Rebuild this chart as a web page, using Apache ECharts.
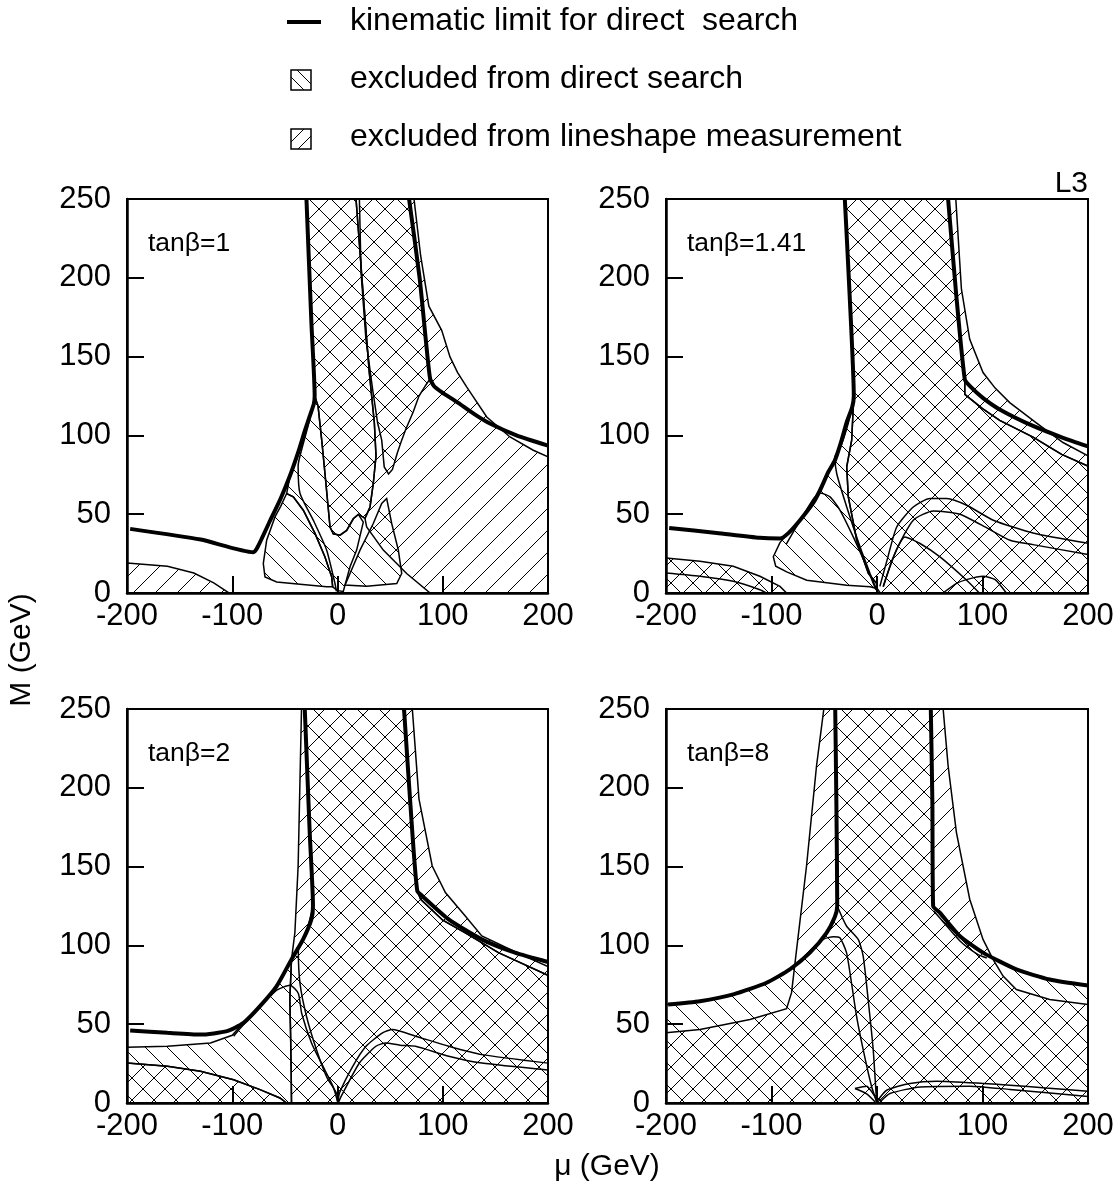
<!DOCTYPE html>
<html>
<head>
<meta charset="utf-8">
<script src="https://cdn.jsdelivr.net/npm/echarts@6/dist/echarts.min.js"></script>
<style>
html, body { margin: 0; padding: 0; background: #fff; }
#main { width: 1120px; height: 1199px; }
</style>
</head>
<body>
<div id="main"></div>
<script>
// ---- data (mu in GeV on x, M in GeV on y) ----
var panelTitles = ['tan\u03b2=1', 'tan\u03b2=1.41', 'tan\u03b2=2', 'tan\u03b2=8'];
var xTicks = [-200, -100, 0, 100, 200];
var yTicks = [0, 50, 100, 150, 200, 250];

// tan(beta) = 1
var p1KinLeft = [[-197,40.7],[-130,33.9],[-80,25.9],[-76,29],[-64,46],[-54,60],[-45,74.7],[-37,90],[-31,103],[-26,113],[-22.5,120],[-21.7,125],[-24.8,171.6],[-29.5,250]];
var p1KinRight = [[68,250],[78,200],[84,160],[88,136],[92,131],[100,127],[113.3,121.3],[130,113.5],[144.9,107.5],[170,100],[200,93.5]];
var p1CrossLeft = [[-29.5,250],[17.6,250],[24,193],[30.2,140],[35,108],[36.6,87],[34,69.5],[30.9,54.6],[26.1,47.3],[19.8,49.9],[15,47.1],[8.7,39.7],[2.4,36.7],[-4,37.6],[-7.1,41.9],[-11.9,75.8],[-15,97],[-18.5,118.7],[-21.7,125],[-24.8,171.6]];
var p1CrossU = [[20.8,250],[22.4,203],[27,161],[33.4,129],[38.1,108],[42,97],[44.4,80],[48.5,75.5],[52.2,78.4],[56.9,89],[61,97],[64.8,103.8],[72,115],[77.4,125],[84,132],[88,136],[84,160],[78,200],[68,250]];
var p1LsMain = [[17.6,250],[72.7,250],[79,214],[86.8,182],[99,166.7],[106.9,149.8],[114,140],[122.7,130.8],[141.8,111.7],[163.9,99],[186,90.6],[200,86.4],[200,0],[88,0],[65.7,12.4],[43.5,27.2],[27.7,41.9],[26.1,47.3],[30.9,54.6],[34,69.5],[36.6,87],[35,108],[30.2,140],[24,193]];
var p1LsCorner = [[-200,19],[-161.6,17],[-136.5,12.7],[-117.6,6.4],[-103,0],[-200,0]];
var p1DsLobeL = [[-48.3,63.1],[-54,55],[-59.4,48.3],[-67.3,33.5],[-70.5,18.7],[-68.9,10.2],[-57.8,7],[-35.6,5.6],[-10.3,3.9],[-4.6,3.9],[-5.5,10.2],[-11.9,22.9],[-21.4,37.8],[-32.5,52.5],[-42,61]];
var p1DsMid = [[-21.7,125],[-22.5,120],[-26,113],[-31,103],[-37,90],[-45,74.7],[-48.3,63.1],[-42,61],[-32.5,52.5],[-21.4,37.8],[-11.9,22.9],[-5.5,10.2],[-4.6,3.9],[0,1.5],[5.5,1],[11.9,16.6],[18.2,27.2],[24.5,45],[19.8,49.9],[15,47.1],[8.7,39.7],[2.4,36.7],[-4,37.6],[-7.1,41.9],[-11.9,75.8],[-15,97],[-18.5,118.7]];
var p1DsLobeR = [[46.7,60],[51.5,44.1],[57.8,27.2],[61,12.4],[56.3,6],[27.7,4.3],[7.1,5],[11.9,12.4],[21.4,27.2],[34,44.1],[42,56.8]];
var p1Twin = [[-22,122],[-28,106],[-36,86],[-37.4,80.5],[-35.6,63.1],[-23,46.2],[-10.3,27.2],[-2.4,6],[-1,1]];

// tan(beta) = 1.41
var p2KinLeft = [[-197,41.3],[-152,38.1],[-111,35],[-92,34.6],[-84,38],[-73,46.2],[-60.5,57.2],[-54,65.2],[-46,77],[-39.8,84.3],[-33.5,97],[-28.9,108],[-23.5,118],[-22,125],[-26,190],[-30.5,250]];
var p2KinRight = [[67.4,250],[75,190],[83.2,135.6],[87.9,131.4],[100,124],[116.3,116.5],[147.9,106],[176.3,98.5],[200,93]];
var p2Cross = [[-30.5,250],[67.4,250],[75,190],[83.2,135.6],[83.2,126],[100,117],[116.3,109.5],[147.9,98.9],[175,88],[200,80.5],[200,0],[3,0],[0,3],[-0.3,6],[-8.2,12.4],[-19.2,33.5],[-27.2,61],[-28.7,80],[-24,97],[-22,125],[-26,190]];
var p2LsBand = [[67.4,250],[74.7,250],[80,193],[87.9,161],[100.5,139.9],[112,130],[125.8,120.8],[151,108],[176.3,95.5],[200,87],[200,80.5],[175,88],[147.9,98.9],[116.3,109.5],[100,117],[83.2,126],[83.2,135.6],[75,190]];
var p2DsLobe = [[-22,125],[-23.5,118],[-28.9,108],[-33.5,97],[-39.8,84.3],[-46,77],[-54,65.2],[-60.5,57.2],[-73,46.2],[-84,38],[-92,32],[-98.3,23],[-96,17],[-85.6,13.4],[-66.6,8.1],[-28.7,4.9],[-6.6,3.9],[-1,3],[-0.3,6],[-8.2,12.4],[-19.2,33.5],[-27.2,61],[-28.7,80],[-24,97]];
var p2CornerX = [[-200,22.2],[-167.8,20.1],[-136.2,17],[-111,10.6],[-92,4.2],[-85.7,0],[-200,0]];
var p2CornerLine = [[-200,12.7],[-167.8,10.6],[-136.2,7.4],[-111,2.1],[-105,0]];
var p2LobeLine = [[-86,31],[-72,47],[-60,60],[-54,63.5],[-44.5,61],[-35,52.5],[-22.5,35.6],[-9.8,16.6],[-3.5,6],[-1,2]];
var p2Twin = [[-22,122],[-28,106],[-35,92],[-39.8,86.4],[-38.2,75.8],[-28.7,54.6],[-16.1,29.3],[-6.6,12.4],[-1,3]];
var p2Arc1 = [[2.7,4.2],[10,22],[18.7,41.9],[34.4,54.6],[50.2,60],[66.1,60],[85,55.7],[110.2,46.2],[147.9,38.1],[200,31.5]];
var p2Arc2 = [[5.8,4.2],[18.5,27.5],[34.4,46.2],[53.4,52.1],[78.7,50],[105,41],[126.1,33.5],[147.9,30.7],[200,24.4]];
var p2Arc3 = [[6,3.9],[15,22],[26.5,35.6],[40.8,31.4],[59.7,22.9],[85,8.1],[97,0]];
var p2Bump = [[62.6,0],[75,6],[84.8,8.5],[100.5,10.6],[112,8.5],[122.6,0]];

// tan(beta) = 2
var p3KinLeft = [[-197,46],[-161.6,44.5],[-130.2,43.4],[-105,45.6],[-89.3,50.9],[-73.6,61.5],[-57.8,74.2],[-43.7,91.1],[-32.7,103.8],[-24.8,116.5],[-23.3,125],[-26.4,171.6],[-31.1,250]];
var p3KinRight = [[63.2,250],[71.1,171.6],[75.8,134.6],[80.5,131.4],[105.7,116.5],[137.1,103.8],[168.6,95.4],[200,89.5]];
var p3Cross = [[-31.1,250],[63.2,250],[71.1,171.6],[75.8,134.6],[79,129.3],[100,116],[121.4,108],[152.9,95.4],[200,81],[200,0],[-43.7,0],[-44,20],[-44.6,44.5],[-45.3,65.7],[-43.7,91.1],[-32.7,103.8],[-24.8,116.5],[-23.3,125],[-26.4,171.6]];
var p3LsLeft = [[-34.2,250],[-31.1,250],[-26.4,171.6],[-23.3,125],[-24.8,116.5],[-32.7,103.8],[-43.7,91.1],[-40.5,108],[-37.4,150.4]];
var p3LsRight = [[63.2,250],[71.1,250],[77.4,193],[90,150.4],[102.5,133.5],[121.4,118.7],[137.1,106],[168.6,96],[200,86.5],[200,81],[152.9,95.4],[121.4,108],[100,116],[79,129.3],[75.8,134.6],[71.1,171.6]];
var p3Ds = [[-200,35.4],[-161.6,36],[-120.7,38.1],[-100,43],[-89.3,50.9],[-73.6,61.5],[-57.8,74.2],[-43.7,91.1],[-45.3,65.7],[-44.6,44.5],[-44,20],[-43.7,0],[-48.4,0],[-54.7,3.2],[-73.6,8.5],[-98.7,14.8],[-130.2,20.1],[-161.6,23.3],[-200,25.4]];
var p3CornerX = [[-200,25.4],[-161.6,23.3],[-130.2,20.1],[-98.7,14.8],[-73.6,8.5],[-54.7,3.2],[-48.4,0],[-200,0]];
var p3Peak = [[-98.7,42.4],[-92.6,47.3],[-73.6,61],[-57.8,71.6],[-45.1,74.7],[-37.2,69.5],[-34,56.8],[-24.5,37.8],[-13.5,22.9],[-4,10.2],[0,1]];
var p3Twin = [[-23.3,125],[-28,112],[-33,104],[-37.2,97],[-35.6,75.8],[-29.3,54.6],[-19.8,33.5],[-10.3,16.6],[-0.8,6],[0,1]];
var p3Arc1 = [[0.5,0.5],[1.9,6.4],[14.5,23.3],[27.1,36],[42.8,44.5],[52.2,46.6],[74.2,42.4],[105.7,36],[137.1,30.7],[200,25.3]];
var p3Arc2 = [[1,0.5],[3.5,4.2],[20.8,25.4],[36.5,36],[45.9,38.1],[59.4,36.7],[74.2,36],[105.7,29.7],[137.1,25.4],[200,21]];

// tan(beta) = 8
var p4KinLeft = [[-198,62.5],[-167.8,64.6],[-136.2,68.9],[-104.7,76.3],[-82.6,84.8],[-63.6,95.4],[-47.8,108],[-40,118],[-37.7,125],[-38.5,190],[-39.6,250]];
var p4KinRight = [[51,250],[52.5,190],[53.2,125],[59.5,120.8],[78.4,106],[100.5,95.4],[132.1,84.8],[163.7,78.4],[200,74.5]];
var p4Ls = [[-200,44.5],[-167.8,46.6],[-120.4,53],[-85.7,59.8],[-81,70],[-76.2,97.5],[-66.8,150.4],[-57.3,214],[-50.4,250],[62.7,250],[67.4,214],[75.3,171.6],[87.9,129.3],[100.5,103.8],[110,91.1],[119.5,80.5],[132.1,72],[163.7,65.7],[200,62.5],[200,0],[-200,0]];
var p4Ds = [[-200,62.5],[-167.8,64.6],[-136.2,68.9],[-104.7,76.3],[-82.6,84.8],[-63.6,95.4],[-47.8,108],[-40,118],[-37.7,125],[-38.5,190],[-39.6,250],[51,250],[52.5,190],[53.2,125],[59.5,120.8],[78.4,106],[100.5,95.4],[132.1,84.8],[163.7,78.4],[200,74.5],[200,0],[-200,0]];
var p4Line1 = [[-37.7,125],[-28.9,112.3],[-17.8,103.8],[-13.1,93.2],[-8.4,65.7],[-3.6,33.9],[-0.5,2.1],[0,0]];
var p4Line2 = [[-76.2,89],[-63.6,95.4],[-51,103.8],[-41.5,105.5],[-35.2,104.9],[-28.9,95.4],[-24.2,76.3],[-19.4,55.1],[-13.1,33.9],[-5.2,10.6],[-0.5,1.1]];
var p4Twin = [[53.5,122],[60,117],[78.4,103],[95,94.5],[104,92]];
var p4Arc1 = [[-0.3,0.7],[9.2,8.1],[31.3,12.4],[56.6,13.8],[100.8,12.4],[126.1,11.3],[160,9.5],[200,7.4]];
var p4Arc2 = [[2.9,0.7],[12.3,6],[40.8,10.2],[88.2,10.7],[126.1,8.6],[200,4.2]];
var p4Small1 = [[-20.9,9.2],[-9.8,10.7],[-1.9,3.9],[-0.3,0.7]];
var p4Small2 = [[-20.9,9.2],[-9.8,5.8],[-1.5,0.5]];

// ---- drawing ----
var FONT = 'Liberation Sans, Arial, Helvetica, sans-serif';
var HATCH = 22;

function hatch(kind) {
  var c = document.createElement('canvas');
  c.width = HATCH; c.height = HATCH;
  var ctx = c.getContext('2d');
  ctx.strokeStyle = '#000';
  ctx.lineWidth = 1;
  ctx.beginPath();
  for (var k = -1; k <= 1; k++) {
    if (kind !== 'ds') { ctx.moveTo(k * HATCH, HATCH); ctx.lineTo(k * HATCH + HATCH, 0); }
    if (kind !== 'ls') { ctx.moveTo(k * HATCH, 0); ctx.lineTo(k * HATCH + HATCH, HATCH); }
  }
  ctx.stroke();
  return { image: c, repeat: 'repeat' };
}
var PAT = { ds: hatch('ds'), ls: hatch('ls'), x: hatch('x') };

var panels = [
  { regions: [['ls', p1LsMain], ['ls', p1LsCorner], ['x', p1CrossLeft], ['x', p1CrossU], ['ds', p1DsMid], ['ds', p1DsLobeL], ['ds', p1DsLobeR]],
    lines: [p1Twin], kin: [p1KinLeft, p1KinRight] },
  { regions: [['x', p2Cross], ['ls', p2LsBand], ['ds', p2DsLobe], ['x', p2CornerX]],
    lines: [p2CornerLine, p2LobeLine, p2Twin, p2Arc1, p2Arc2, p2Arc3, p2Bump], kin: [p2KinLeft, p2KinRight] },
  { regions: [['x', p3Cross], ['ls', p3LsLeft], ['ls', p3LsRight], ['ds', p3Ds], ['x', p3CornerX]],
    lines: [p3Peak, p3Twin, p3Arc1, p3Arc2], kin: [p3KinLeft, p3KinRight] },
  { regions: [['ls', p4Ls], ['ds', p4Ds]],
    lines: [p4Line1, p4Line2, p4Twin, p4Arc1, p4Arc2, p4Small1, p4Small2], kin: [p4KinLeft, p4KinRight] }
];

var gridBoxes = [
  { left: 127, top: 199, width: 421, height: 394 },
  { left: 666, top: 199, width: 422, height: 394 },
  { left: 127, top: 709, width: 421, height: 394 },
  { left: 666, top: 709, width: 422, height: 394 }
];

var grids = [], xAxes = [], yAxes = [], series = [], graphics = [];

gridBoxes.forEach(function (b, i) {
  grids.push({ left: b.left, top: b.top, width: b.width, height: b.height, show: true,
    borderColor: '#000', borderWidth: 2, backgroundColor: 'transparent', outerBoundsMode: 'none' });
  xAxes.push({ gridIndex: i, type: 'value', min: xTicks[0], max: xTicks[xTicks.length - 1], interval: 100,
    axisLine: { show: true, onZero: false, lineStyle: { color: '#000', width: 2.5 } },
    axisTick: { show: true, inside: true, length: 17, lineStyle: { color: '#000', width: 2 } },
    axisLabel: { color: '#000', fontSize: 31, fontFamily: FONT, margin: 8, showMinLabel: true, showMaxLabel: true },
    splitLine: { show: false } });
  yAxes.push({ gridIndex: i, type: 'value', min: yTicks[0], max: yTicks[yTicks.length - 1], interval: 50,
    axisLine: { show: true, onZero: false, lineStyle: { color: '#000', width: 2.5 } },
    axisTick: { show: true, inside: true, length: 17, lineStyle: { color: '#000', width: 2 } },
    axisLabel: { color: '#000', fontSize: 31, fontFamily: FONT, margin: 16, showMinLabel: true, showMaxLabel: true },
    splitLine: { show: false } });
  graphics.push({ type: 'text', left: b.left + 21, top: b.top + 31,
    style: { text: panelTitles[i], font: '26.5px ' + FONT, fill: '#000' }, z: 10 });
});

function regionSeries(gi, kind, pts) {
  return {
    type: 'custom', xAxisIndex: gi, yAxisIndex: gi, clip: true, silent: true, z: 2,
    data: [[pts[0][0], pts[0][1]]],
    renderItem: function (params, api) {
      return {
        type: 'polygon',
        shape: { points: pts.map(function (p) { return api.coord(p); }) },
        style: { fill: PAT[kind], stroke: '#000', lineWidth: 1.5 }
      };
    }
  };
}

function lineSeries(gi, pts, w) {
  return {
    type: 'line', xAxisIndex: gi, yAxisIndex: gi, data: pts, symbol: 'none', showSymbol: false,
    smooth: 0.2, clip: true, silent: true, z: w > 2 ? 6 : 4,
    lineStyle: { color: '#000', width: w }
  };
}

panels.forEach(function (p, gi) {
  p.regions.forEach(function (r) { series.push(regionSeries(gi, r[0], r[1])); });
  p.lines.forEach(function (l) { series.push(lineSeries(gi, l, 1.5)); });
  p.kin.forEach(function (l) { series.push(lineSeries(gi, l, 4)); });
});

// legend and axis titles
graphics.push(
  { type: 'line', shape: { x1: 287, y1: 22, x2: 321, y2: 22 }, style: { stroke: '#000', lineWidth: 4 } },
  { type: 'text', left: 350, top: 5, style: { text: 'kinematic limit for direct  search', font: '32px ' + FONT, fill: '#000' } },
  { type: 'rect', shape: { x: 291, y: 70, width: 20, height: 20 }, style: { fill: '#fff', stroke: '#000', lineWidth: 1.5 } },
  { type: 'line', shape: { x1: 291, y1: 77, x2: 304, y2: 90 }, style: { stroke: '#000', lineWidth: 1 } },
  { type: 'line', shape: { x1: 297, y1: 70, x2: 311, y2: 84 }, style: { stroke: '#000', lineWidth: 1 } },
  { type: 'text', left: 350, top: 63, style: { text: 'excluded from direct search', font: '32px ' + FONT, fill: '#000' } },
  { type: 'rect', shape: { x: 291, y: 129, width: 20, height: 20 }, style: { fill: '#fff', stroke: '#000', lineWidth: 1.5 } },
  { type: 'line', shape: { x1: 291, y1: 142, x2: 304, y2: 129 }, style: { stroke: '#000', lineWidth: 1 } },
  { type: 'line', shape: { x1: 298, y1: 149, x2: 311, y2: 136 }, style: { stroke: '#000', lineWidth: 1 } },
  { type: 'text', left: 350, top: 121, style: { text: 'excluded from lineshape measurement', font: '32px ' + FONT, fill: '#000' } },
  { type: 'text', right: 32, top: 169, style: { text: 'L3', font: '30px ' + FONT, fill: '#000' } },
  { type: 'text', x: 22, y: 650, rotation: Math.PI / 2,
    style: { text: 'M (GeV)', font: '30px ' + FONT, fill: '#000', textAlign: 'center', textVerticalAlign: 'middle' } },
  { type: 'text', x: 607, y: 1167,
    style: { text: '\u03bc (GeV)', font: '30px ' + FONT, fill: '#000', textAlign: 'center', textVerticalAlign: 'middle' } }
);

var chart = echarts.init(document.getElementById('main'), null, { renderer: 'canvas' });
chart.setOption({
  animation: false,
  backgroundColor: '#fff',
  grid: grids,
  xAxis: xAxes,
  yAxis: yAxes,
  series: series,
  graphic: graphics
});
</script>
</body>
</html>
